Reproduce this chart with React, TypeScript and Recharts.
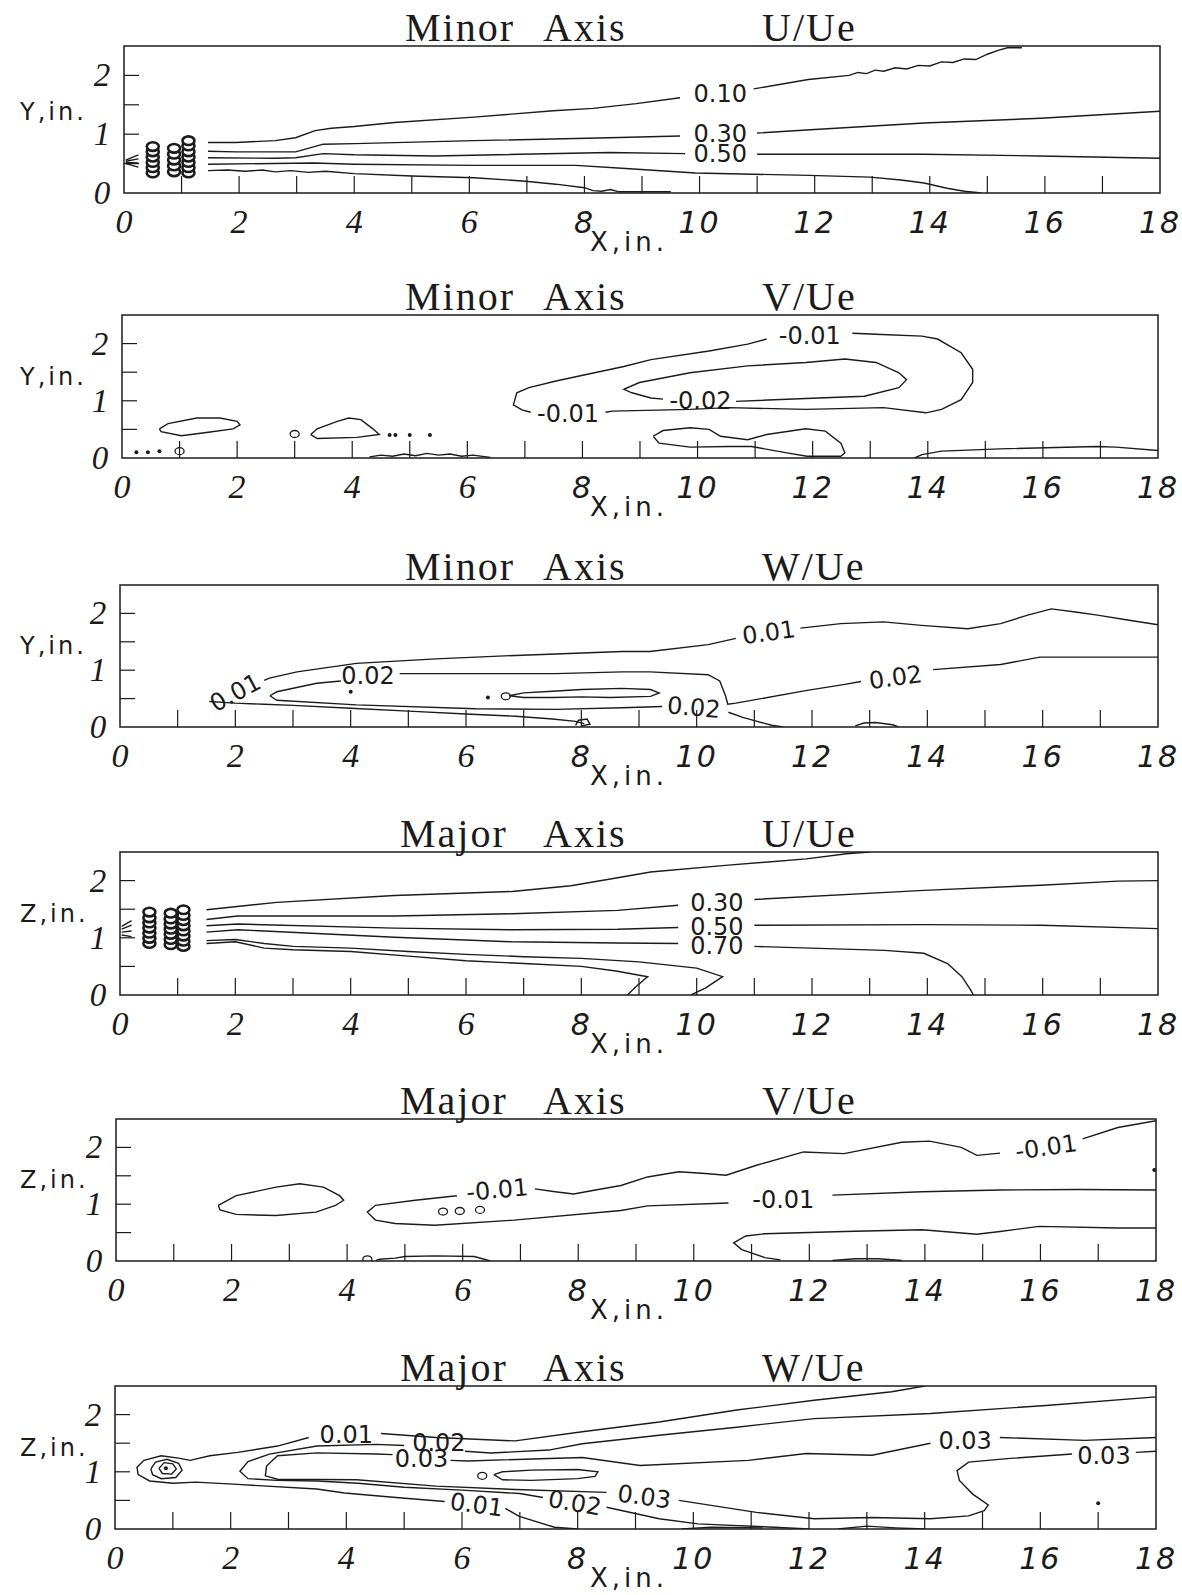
import React from 'react';
import { ScatterChart, Scatter, XAxis, YAxis, ReferenceArea } from 'recharts';

type Pt = [number, number];
type Lbl = { x: number; y: number; t: string; r?: number };

const xTicks = [0, 1, 2, 3, 4, 5, 6, 7, 8, 9, 10, 11, 12, 13, 14, 15, 16, 17, 18];
const yTicks = [0, 0.5, 1, 1.5, 2];

// ---- Minor axis, U/Ue
const p1c010a: Pt[] = [[1.46, 0.86], [1.94, 0.86], [2.63, 0.89], [2.98, 0.94], [3.32, 1.06], [3.6, 1.1], [4.0, 1.13], [4.7, 1.2], [6.08, 1.29], [7.46, 1.4], [8.15, 1.44], [8.9, 1.52], [9.66, 1.62]];
const p1c010b: Pt[] = [[10.94, 1.77], [11.89, 1.93], [12.6, 2.0], [12.75, 2.05], [12.9, 2.03], [13.05, 2.09], [13.2, 2.07], [13.4, 2.13], [13.6, 2.11], [13.8, 2.17], [14.0, 2.16], [14.2, 2.23], [14.4, 2.22], [14.6, 2.28], [14.8, 2.27], [15.0, 2.36], [15.2, 2.43], [15.35, 2.47], [15.6, 2.47]];
const p1c030a: Pt[] = [[1.46, 0.71], [1.94, 0.7], [2.98, 0.7], [3.2, 0.76], [3.46, 0.83], [4.01, 0.84], [6.08, 0.89], [8.43, 0.94], [9.66, 0.97]];
const p1c030b: Pt[] = [[11.0, 1.02], [12.0, 1.08], [13.9, 1.19], [15.93, 1.27], [18, 1.39]];
const p1c050a: Pt[] = [[1.46, 0.6], [2.63, 0.59], [2.98, 0.6], [3.46, 0.67], [4.0, 0.65], [5.4, 0.63], [8.43, 0.69], [9.75, 0.67]];
const p1c050b: Pt[] = [[11.0, 0.66], [13.9, 0.66], [15.9, 0.63], [18, 0.59]];
const p1c070: Pt[] = [[1.46, 0.49], [3.3, 0.51], [4.0, 0.49], [6.08, 0.47], [7.85, 0.47], [8.65, 0.42], [9.93, 0.34], [11.9, 0.3], [12.96, 0.27], [13.5, 0.22], [13.9, 0.17], [14.3, 0.08], [14.6, 0.03], [14.9, 0]];
const p1c090: Pt[] = [[1.46, 0.38], [1.8, 0.39], [2.1, 0.37], [2.4, 0.39], [2.63, 0.36], [2.9, 0.38], [3.2, 0.35], [3.5, 0.37], [4.0, 0.33], [5.0, 0.29], [6.08, 0.26], [6.98, 0.2], [7.5, 0.15], [8.0, 0.09], [8.15, 0.04], [8.3, 0.03], [8.45, 0.06], [8.6, 0.02], [9.0, 0.02], [9.5, 0.02]];
const p1Stubs: Pt[][] = [[[0.03, 0.5], [0.25, 0.44]], [[0.03, 0.52], [0.25, 0.51]], [[0.03, 0.54], [0.25, 0.58]], [[0.03, 0.56], [0.25, 0.65]]];
const p1Rings: Pt[] = [
  [0.5, 0.34], [0.5, 0.43], [0.5, 0.52], [0.5, 0.61], [0.5, 0.7], [0.5, 0.79],
  [0.87, 0.36], [0.87, 0.46], [0.87, 0.56], [0.87, 0.66], [0.87, 0.76],
  [1.12, 0.34], [1.12, 0.43], [1.12, 0.52], [1.12, 0.61], [1.12, 0.7], [1.12, 0.8], [1.12, 0.89],
];
const p1Labels: Lbl[] = [{ x: 10.36, y: 1.68, t: '0.10' }, { x: 10.36, y: 1.0, t: '0.30' }, { x: 10.36, y: 0.66, t: '0.50' }];

// ---- Minor axis, V/Ue
const p2blob1: Pt[] = [[0.65, 0.51], [0.8, 0.6], [1.3, 0.7], [1.7, 0.7], [2.0, 0.64], [2.05, 0.58], [1.93, 0.51], [1.5, 0.45], [1.03, 0.39], [0.68, 0.46], [0.65, 0.51]];
const p2blob2: Pt[] = [[3.28, 0.41], [3.39, 0.51], [3.74, 0.64], [3.94, 0.7], [4.15, 0.67], [4.36, 0.51], [4.47, 0.41], [4.08, 0.36], [3.39, 0.34], [3.28, 0.41]];
const p2bottom: Pt[] = [[4.3, 0.02], [4.5, 0.05], [4.7, 0.03], [4.9, 0.07], [5.1, 0.04], [5.3, 0.08], [5.5, 0.05], [5.7, 0.07], [5.9, 0.03], [6.1, 0.05], [6.4, 0.01]];
const p2m01a: Pt[] = [[7.1, 0.8], [6.95, 0.84], [6.8, 0.93], [6.86, 1.14], [7.07, 1.23], [7.56, 1.35], [8.25, 1.5], [8.72, 1.6], [9.19, 1.72], [10.2, 1.87], [10.87, 1.99], [11.2, 2.08]];
const p2m01b: Pt[] = [[12.69, 2.18], [13.2, 2.16], [13.9, 2.13], [14.17, 2.08], [14.58, 1.84], [14.78, 1.55], [14.78, 1.32], [14.58, 1.02], [14.24, 0.85], [13.97, 0.79], [13.23, 0.88], [11.88, 0.85], [10.54, 0.88], [9.87, 0.85], [8.52, 0.82], [8.4, 0.8]];
const p2m02: Pt[] = [[9.4, 1.03], [9.19, 1.05], [8.86, 1.14], [8.72, 1.2], [8.99, 1.32], [9.87, 1.49], [10.87, 1.61], [11.88, 1.67], [12.56, 1.73], [13.1, 1.67], [13.5, 1.49], [13.63, 1.37], [13.5, 1.23], [12.9, 1.08], [11.88, 1.04], [10.67, 0.99]];
const p2blob3: Pt[] = [[9.23, 0.38], [9.4, 0.48], [9.87, 0.53], [10.2, 0.5], [10.4, 0.38], [10.87, 0.32], [11.2, 0.41], [11.88, 0.51], [12.22, 0.47], [12.49, 0.26], [12.56, 0.09], [12.49, 0.03], [11.9, 0.03], [11.55, 0.09], [10.94, 0.2], [10.54, 0.2], [9.87, 0.19], [9.33, 0.26], [9.23, 0.38]];
const p2lowR: Pt[] = [[13.77, 0], [13.9, 0.06], [14.24, 0.12], [15.25, 0.16], [16.93, 0.2], [17.27, 0.19], [18, 0.13]];
const p2Small: Pt[] = [[3.0, 0.42], [1.0, 0.12]];
const p2Dots: Pt[] = [[4.65, 0.4], [4.75, 0.4], [5.0, 0.4], [5.35, 0.4], [0.25, 0.1], [0.45, 0.1], [0.65, 0.12]];
const p2Labels: Lbl[] = [{ x: 11.95, y: 2.14, t: '-0.01' }, { x: 7.75, y: 0.77, t: '-0.01' }, { x: 10.05, y: 1.0, t: '-0.02' }];

// ---- Minor axis, W/Ue
const p3c01a: Pt[] = [[2.5, 0.82], [2.59, 0.86], [3.07, 0.97], [4.1, 1.12], [5.48, 1.2], [6.86, 1.26], [8.71, 1.33], [9.19, 1.33], [10.2, 1.45], [10.68, 1.56]];
const p3c01b: Pt[] = [[11.8, 1.74], [12.5, 1.82], [13.24, 1.85], [13.9, 1.79], [14.7, 1.73], [15.27, 1.82], [15.74, 1.97], [16.15, 2.08], [16.6, 2.02], [16.95, 1.97], [17.5, 1.88], [18, 1.8]];
const p3c01c: Pt[] = [[1.55, 0.45], [2.0, 0.42], [2.5, 0.4], [3.0, 0.38], [4.0, 0.33], [5.0, 0.28], [6.0, 0.23], [6.86, 0.19], [7.5, 0.14], [7.9, 0.1], [8.05, 0.06]];
const p3loop8: Pt[] = [[7.9, 0.03], [7.95, 0.12], [8.1, 0.14], [8.15, 0.05], [8.0, 0.02]];
const p3c01d: Pt[] = [[10.55, 0.26], [10.8, 0.17], [11.05, 0.1], [11.3, 0.03], [11.5, 0]];
const p3c02a: Pt[] = [[2.6, 0.55], [2.72, 0.62], [3.41, 0.77], [3.83, 0.81]];
const p3c02b: Pt[] = [[4.85, 0.94], [6.17, 0.94], [7.55, 0.94], [8.71, 0.97], [9.19, 0.97], [10.2, 0.92], [10.4, 0.81], [10.5, 0.55], [10.54, 0.4], [10.68, 0.42], [11.89, 0.64], [12.57, 0.75], [12.85, 0.8]];
const p3c02c: Pt[] = [[14.1, 1.01], [15.27, 1.1], [15.95, 1.23], [16.96, 1.23], [18, 1.23]];
const p3c02d: Pt[] = [[2.6, 0.55], [2.72, 0.47], [4.1, 0.39], [6.17, 0.32], [7.55, 0.31], [8.71, 0.34], [9.4, 0.36]];
const p3c03: Pt[] = [[6.75, 0.55], [7.0, 0.6], [7.5, 0.63], [8.0, 0.66], [8.7, 0.68], [9.2, 0.66], [9.35, 0.6], [9.2, 0.54], [8.5, 0.52], [8.0, 0.53], [7.5, 0.52], [7.0, 0.52], [6.75, 0.55]];
const p3bump: Pt[] = [[12.75, 0.02], [12.9, 0.07], [13.1, 0.08], [13.4, 0.04], [13.5, 0]];
const p3Small: Pt[] = [[6.69, 0.54]];
const p3Dots: Pt[] = [[4.0, 0.62], [6.38, 0.52]];
const p3Labels: Lbl[] = [{ x: 2.0, y: 0.6, t: '0.01', r: -28 }, { x: 4.3, y: 0.9, t: '0.02' }, { x: 11.25, y: 1.66, t: '0.01', r: -8 }, { x: 13.45, y: 0.87, t: '0.02', r: -8 }, { x: 9.95, y: 0.34, t: '0.02', r: 5 }];

// ---- Major axis, U/Ue
const p4c010: Pt[] = [[1.5, 1.49], [2.72, 1.62], [4.76, 1.74], [6.8, 1.81], [7.82, 1.91], [8.63, 2.05], [9.2, 2.15], [10.55, 2.27], [11.9, 2.38], [12.6, 2.47], [13.0, 2.5]];
const p4c030a: Pt[] = [[1.5, 1.32], [2.04, 1.38], [4.76, 1.38], [6.8, 1.42], [8.63, 1.48], [9.68, 1.57]];
const p4c030b: Pt[] = [[11.0, 1.67], [13.94, 1.83], [15.97, 1.92], [17.3, 1.99], [18, 2.0]];
const p4c050a: Pt[] = [[1.5, 1.21], [2.04, 1.24], [4.76, 1.17], [6.8, 1.14], [8.63, 1.15], [9.68, 1.18]];
const p4c050b: Pt[] = [[11.0, 1.22], [13.94, 1.23], [15.97, 1.22], [18, 1.16]];
const p4c070a: Pt[] = [[1.5, 1.1], [2.04, 1.14], [4.76, 1.01], [6.8, 0.93], [8.63, 0.91], [9.68, 0.9]];
const p4c070b: Pt[] = [[11.0, 0.85], [13.26, 0.78], [13.94, 0.73], [14.35, 0.55], [14.6, 0.32], [14.75, 0.09], [14.8, 0]];
const p4c090: Pt[] = [[1.5, 0.95], [2.0, 0.97], [2.5, 0.9], [3.0, 0.85], [4.0, 0.82], [5.0, 0.76], [6.0, 0.71], [7.0, 0.67], [8.0, 0.64], [9.0, 0.58], [10.0, 0.47], [10.45, 0.32], [10.15, 0.12], [9.9, 0]];
const p4c095: Pt[] = [[1.5, 0.9], [2.0, 0.93], [2.5, 0.82], [3.0, 0.79], [4.0, 0.76], [5.0, 0.68], [6.0, 0.6], [7.0, 0.55], [8.0, 0.5], [8.6, 0.42], [9.15, 0.32], [8.95, 0.15], [8.8, 0]];
const p4Stubs: Pt[][] = [[[0.03, 1.05], [0.2, 1.02]], [[0.03, 1.1], [0.2, 1.12]], [[0.03, 1.15], [0.2, 1.22]], [[0.03, 1.2], [0.2, 1.3]]];
const p4Rings: Pt[] = [
  [0.51, 0.9], [0.51, 0.99], [0.51, 1.08], [0.51, 1.17], [0.51, 1.26], [0.51, 1.35], [0.51, 1.45],
  [0.88, 0.88], [0.88, 0.97], [0.88, 1.06], [0.88, 1.15], [0.88, 1.24], [0.88, 1.33], [0.88, 1.43],
  [1.1, 0.85], [1.1, 0.94], [1.1, 1.03], [1.1, 1.12], [1.1, 1.21], [1.1, 1.3], [1.1, 1.39], [1.1, 1.49],
];
const p4Labels: Lbl[] = [{ x: 10.35, y: 1.61, t: '0.30' }, { x: 10.35, y: 1.19, t: '0.50' }, { x: 10.35, y: 0.86, t: '0.70' }];

// ---- Major axis, V/Ue
const p5blob: Pt[] = [[1.77, 0.98], [2.08, 1.15], [2.77, 1.3], [3.18, 1.36], [3.59, 1.3], [3.87, 1.15], [3.94, 1.07], [3.8, 0.98], [3.46, 0.86], [2.77, 0.8], [2.08, 0.82], [1.8, 0.9], [1.77, 0.98]];
const p5m01a: Pt[] = [[5.9, 1.15], [5.18, 1.07], [4.49, 0.98], [4.35, 0.86], [4.49, 0.72], [4.83, 0.66], [5.52, 0.63], [6.89, 0.72], [8.74, 0.89], [9.2, 0.97], [10.6, 1.02]];
const p5m01b: Pt[] = [[12.4, 1.16], [13.95, 1.22], [15.3, 1.25], [16.66, 1.26], [18, 1.25]];
const p5m01c: Pt[] = [[7.25, 1.27], [7.6, 1.22], [7.92, 1.18], [8.3, 1.25], [8.74, 1.33], [9.2, 1.48], [9.74, 1.57], [10.2, 1.54], [10.56, 1.51], [11.1, 1.69], [11.9, 1.92], [12.6, 1.89], [13.6, 2.09], [14.08, 2.11], [14.63, 2.0], [14.9, 1.86], [15.3, 1.9]];
const p5m01d: Pt[] = [[16.73, 2.15], [17.34, 2.35], [18, 2.47]];
const p5bottom: Pt[] = [[4.5, 0.01], [4.56, 0.03], [4.83, 0.05], [5.0, 0.08], [5.52, 0.09], [6.2, 0.08], [6.48, 0]];
const p5lowR: Pt[] = [[11.5, 0.02], [11.23, 0.06], [10.83, 0.2], [10.69, 0.32], [10.9, 0.44], [11.23, 0.48], [12.6, 0.52], [13.95, 0.55], [14.9, 0.47], [15.3, 0.52], [15.98, 0.61], [17.34, 0.58], [18, 0.58]];
const p5bump: Pt[] = [[12.4, 0.01], [12.8, 0.04], [13.2, 0.04], [13.6, 0.01]];
const p5Small: Pt[] = [[5.66, 0.87], [5.95, 0.88], [6.3, 0.9], [4.35, 0.03]];
const p5Dots: Pt[] = [[17.97, 1.6]];
const p5Labels: Lbl[] = [{ x: 6.6, y: 1.25, t: '-0.01', r: -5 }, { x: 11.55, y: 1.08, t: '-0.01' }, { x: 16.1, y: 2.0, t: '-0.01', r: -8 }];

// ---- Major axis, W/Ue
const p6c01a: Pt[] = [[5.7, 0.48], [4.86, 0.55], [3.97, 0.63], [3.49, 0.7], [2.12, 0.78], [1.4, 0.82], [1.0, 0.8], [0.6, 0.84], [0.4, 0.95], [0.38, 1.08], [0.5, 1.2], [0.8, 1.28], [1.1, 1.24], [1.3, 1.2], [1.64, 1.28], [2.12, 1.34], [2.81, 1.45], [3.35, 1.6]];
const p6c01b: Pt[] = [[4.6, 1.67], [5.55, 1.6], [6.92, 1.54], [8.08, 1.7], [9.41, 1.87], [10.75, 2.08], [12.09, 2.25], [13.43, 2.4], [14.0, 2.5]];
const p6c01c: Pt[] = [[6.75, 0.36], [6.99, 0.22], [7.6, 0.03], [8.0, 0]];
const p6c02a: Pt[] = [[5.0, 1.46], [4.52, 1.48], [3.49, 1.45], [2.67, 1.31], [2.3, 1.18], [2.16, 1.01], [2.3, 0.88], [2.8, 0.85], [3.5, 0.84], [4.2, 0.8], [5.0, 0.73], [6.0, 0.68], [7.0, 0.62], [7.4, 0.55]];
const p6c02b: Pt[] = [[8.5, 0.38], [9.41, 0.18], [10.08, 0.09], [11.4, 0.03], [12.0, 0]];
const p6c02c: Pt[] = [[6.05, 1.36], [6.5, 1.33], [7.5, 1.38], [8.08, 1.49], [9.41, 1.64], [10.75, 1.78], [12.09, 1.93], [14.1, 2.02], [16.1, 2.16], [18, 2.31]];
const p6c03a: Pt[] = [[4.8, 1.3], [4.52, 1.31], [3.49, 1.33], [2.81, 1.28], [2.62, 1.1], [2.6, 0.93], [2.81, 0.87], [4.18, 0.86], [5.55, 0.75], [6.92, 0.69], [8.5, 0.64]];
const p6c03b: Pt[] = [[9.75, 0.5], [11.09, 0.29], [12.09, 0.18], [13.09, 0.2], [14.1, 0.18], [14.76, 0.23], [15.03, 0.32], [15.1, 0.42], [14.83, 0.61], [14.6, 0.85], [14.56, 1.02], [14.76, 1.17], [15.43, 1.23], [16.55, 1.31]];
const p6c03c: Pt[] = [[17.65, 1.34], [18, 1.36]];
const p6c03d: Pt[] = [[5.8, 1.2], [6.1, 1.19], [8.08, 1.25], [9.08, 1.11], [10.95, 1.2], [11.95, 1.32], [13.09, 1.29], [14.1, 1.5]];
const p6c03e: Pt[] = [[15.3, 1.6], [16.77, 1.55], [18, 1.6]];
const p6c04: Pt[] = [[6.55, 0.95], [6.7, 1.0], [7.2, 1.03], [8.0, 1.04], [8.35, 1.0], [8.3, 0.92], [8.0, 0.88], [7.2, 0.85], [6.7, 0.86], [6.55, 0.95]];
const p6mid: Pt[] = [[0.62, 1.05], [0.7, 1.17], [0.9, 1.22], [1.1, 1.15], [1.16, 1.03], [1.05, 0.9], [0.8, 0.88], [0.65, 0.95], [0.62, 1.05]];
const p6core: Pt[] = [[0.76, 1.06], [0.85, 1.16], [1.0, 1.14], [1.06, 1.05], [0.98, 0.96], [0.82, 0.97], [0.76, 1.06]];
const p6bumpA: Pt[] = [[9.8, 0], [10.3, 0.03], [11.2, 0.02]];
const p6bumpB: Pt[] = [[12.5, 0], [13.0, 0.05], [13.5, 0.02], [14.0, 0]];
const p6Small: Pt[] = [[6.35, 0.93]];
const p6Dots: Pt[] = [[17.0, 0.45], [0.88, 1.06]];
const p6Labels: Lbl[] = [
  { x: 4.0, y: 1.65, t: '0.01' }, { x: 5.6, y: 1.5, t: '0.02' }, { x: 5.3, y: 1.23, t: '0.03' },
  { x: 6.25, y: 0.42, t: '0.01', r: 8 }, { x: 7.95, y: 0.45, t: '0.02', r: 10 }, { x: 9.15, y: 0.56, t: '0.03', r: 8 },
  { x: 14.7, y: 1.53, t: '0.03' }, { x: 17.1, y: 1.27, t: '0.03' },
];

const INK = '#1b1b1b';
const SERIF = '"Liberation Serif", "DejaVu Serif", serif';
const SANS = '"DejaVu Sans", "Liberation Sans", sans-serif';
const CH = 260;
const TOPPAD = 46;

const toXY = (a: Pt[]) => a.map(([x, y]) => ({ x, y }));

const XTick = (p: any) => {
  const v = p.payload.value;
  const serif = v < 8;
  return (
    <g>
      {v > 0 && v < 18 && <line x1={p.x} y1={p.y} x2={p.x} y2={p.y - 17} stroke={INK} strokeWidth={1.2} />}
      {v % 2 === 0 && (
        <text x={p.x} y={p.y + 40} textAnchor="middle" fontStyle="italic" fontFamily={serif ? SERIF : SANS}
          fontSize={serif ? 34 : 30} letterSpacing={serif ? 0 : 2} fill={INK}>{v}</text>
      )}
    </g>
  );
};

const YTick = (p: any) => {
  const v = p.payload.value;
  return (
    <g>
      {v > 0 && <line x1={p.x} y1={p.y} x2={p.x + 15} y2={p.y} stroke={INK} strokeWidth={1.2} />}
      {Number.isInteger(v) && (
        <text x={p.x - 22} y={p.y + 11} textAnchor="middle" fontStyle="italic" fontFamily={SERIF} fontSize={33} fill={INK}>{v}</text>
      )}
    </g>
  );
};

const noMark = () => <g />;
const ring = (p: any) => <ellipse cx={p.cx} cy={p.cy} rx={6} ry={4.3} fill="#fff" stroke={INK} strokeWidth={2.6} />;
const smallRing = (p: any) => <ellipse cx={p.cx} cy={p.cy} rx={4.5} ry={3.5} fill="none" stroke={INK} strokeWidth={1.3} />;
const dot = (p: any) => <circle cx={p.cx} cy={p.cy} r={2} fill={INK} />;
const labelMark = (p: any) => (
  <text x={p.cx} y={p.cy} textAnchor="middle" dominantBaseline="central" fontFamily={SANS} fontSize={24} fill={INK}
    transform={`rotate(${p.payload.r || 0} ${p.cx} ${p.cy})`}>{p.payload.t}</text>
);

type PanelDef = {
  box: { L: number; R: number; T: number; B: number };
  axis: string; comp: string; yName: string;
  lines: Pt[][]; labels: Lbl[]; rings?: Pt[]; small?: Pt[]; dots?: Pt[];
};

const panels: PanelDef[] = [
  { box: { L: 124, R: 1160, T: 46, B: 193 }, axis: 'Minor', comp: 'U/Ue', yName: 'Y,in.',
    lines: [p1c010a, p1c010b, p1c030a, p1c030b, p1c050a, p1c050b, p1c070, p1c090, ...p1Stubs], labels: p1Labels, rings: p1Rings },
  { box: { L: 122, R: 1158, T: 315, B: 458 }, axis: 'Minor', comp: 'V/Ue', yName: 'Y,in.',
    lines: [p2blob1, p2blob2, p2bottom, p2m01a, p2m01b, p2m02, p2blob3, p2lowR], labels: p2Labels, small: p2Small, dots: p2Dots },
  { box: { L: 120, R: 1158, T: 585, B: 727 }, axis: 'Minor', comp: 'W/Ue', yName: 'Y,in.',
    lines: [p3c01a, p3c01b, p3c01c, p3loop8, p3c01d, p3c02a, p3c02b, p3c02c, p3c02d, p3c03, p3bump], labels: p3Labels, small: p3Small, dots: p3Dots },
  { box: { L: 120, R: 1158, T: 852, B: 995 }, axis: 'Major', comp: 'U/Ue', yName: 'Z,in.',
    lines: [p4c010, p4c030a, p4c030b, p4c050a, p4c050b, p4c070a, p4c070b, p4c090, p4c095, ...p4Stubs], labels: p4Labels, rings: p4Rings },
  { box: { L: 116, R: 1156, T: 1119, B: 1261 }, axis: 'Major', comp: 'V/Ue', yName: 'Z,in.',
    lines: [p5blob, p5m01a, p5m01b, p5m01c, p5m01d, p5bottom, p5lowR, p5bump], labels: p5Labels, small: p5Small, dots: p5Dots },
  { box: { L: 115, R: 1156, T: 1386, B: 1529 }, axis: 'Major', comp: 'W/Ue', yName: 'Z,in.',
    lines: [p6c01a, p6c01b, p6c01c, p6c02a, p6c02b, p6c02c, p6c03a, p6c03b, p6c03c, p6c03d, p6c03e, p6c04, p6mid, p6core, p6bumpA, p6bumpB], labels: p6Labels, small: p6Small, dots: p6Dots },
];

const Panel: React.FC<{ def: PanelDef }> = ({ def }) => {
  const { L, R, T, B } = def.box;
  const h = B - T;
  // axes get 1px of size (a 0-sized axis is not drawn), taken back from the margins
  return (
    <div style={{ position: 'absolute', left: 0, top: T - TOPPAD, width: 1182, height: CH }}>
      <ScatterChart width={1182} height={CH} margin={{ top: TOPPAD, left: L - 1, right: 1182 - R, bottom: CH - TOPPAD - h - 1 }}>
        <XAxis type="number" dataKey="x" domain={[0, 18]} ticks={xTicks} interval={0} allowDataOverflow
          axisLine={false} tickLine={false} tickSize={0} tickMargin={0} height={1} tick={(p: any) => <XTick {...p} />} />
        <YAxis type="number" dataKey="y" domain={[0, 2.5]} ticks={yTicks} interval={0} allowDataOverflow
          axisLine={false} tickLine={false} tickSize={0} tickMargin={0} width={1} tick={(p: any) => <YTick {...p} />} />
        <ReferenceArea x1={0} x2={18} y1={0} y2={2.5} fill="none" stroke={INK} strokeWidth={1.5} ifOverflow="visible" />
        {def.lines.map((ln, i) => (
          <Scatter key={`l${i}`} data={toXY(ln)} fill={INK} line={{ stroke: INK, strokeWidth: 1.4 }} lineType="joint"
            shape={noMark} isAnimationActive={false} />
        ))}
        {def.rings && <Scatter data={toXY(def.rings)} shape={ring} isAnimationActive={false} />}
        {def.small && <Scatter data={toXY(def.small)} shape={smallRing} isAnimationActive={false} />}
        {def.dots && <Scatter data={toXY(def.dots)} shape={dot} isAnimationActive={false} />}
        <Scatter data={def.labels} shape={labelMark} isAnimationActive={false} />
      </ScatterChart>
      <svg width={1182} height={CH} style={{ position: 'absolute', left: 0, top: 0, pointerEvents: 'none' }}>
        <g fontFamily={SERIF} fontSize={40} fill={INK} letterSpacing={2}>
          <text x={def.axis === 'Minor' ? 405 : 400} y={TOPPAD - 5}>{def.axis}</text>
          <text x={543} y={TOPPAD - 5}>Axis</text>
          <text x={762} y={TOPPAD - 5}>{def.comp}</text>
        </g>
        <text x={20} y={TOPPAD + h - 73} fontFamily={SANS} fontSize={24} letterSpacing={3} fill={INK}>{def.yName}</text>
        <text x={590} y={TOPPAD + h + 58} fontFamily={SANS} fontSize={26} letterSpacing={4} fill={INK}>X,in.</text>
      </svg>
    </div>
  );
};

export default function App() {
  return (
    <div style={{ position: 'absolute', left: 0, top: 0, width: 1182, height: 1595, overflow: 'hidden', background: '#fff' }}>
      {panels.map((d, i) => <Panel key={i} def={d} />)}
    </div>
  );
}
